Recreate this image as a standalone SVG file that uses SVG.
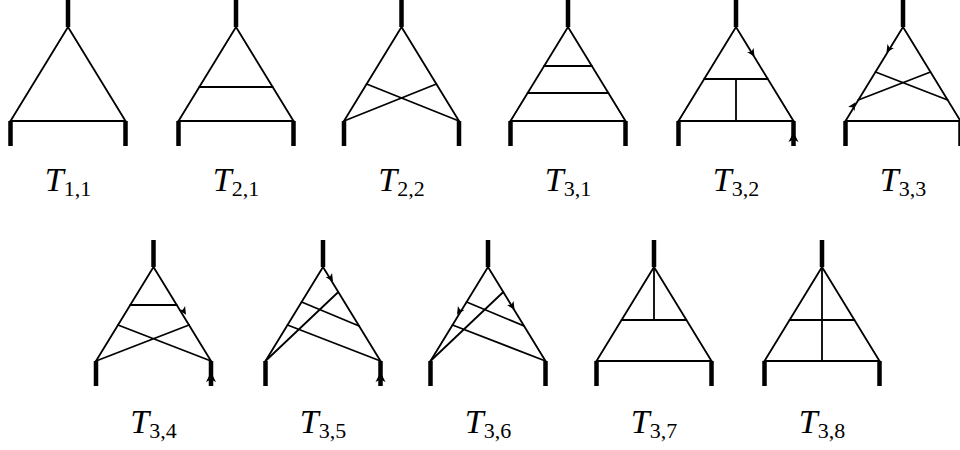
<svg xmlns="http://www.w3.org/2000/svg" xmlns:xlink="http://www.w3.org/1999/xlink" width="960" height="450" viewBox="0 0 960 450">
<style>
.l{stroke:#000;stroke-width:1.8;fill:none;stroke-linecap:round}
.k{stroke:#000;stroke-width:4.5;fill:none}
.t{font-family:"Liberation Serif","DejaVu Serif",serif;font-style:italic;font-size:34px;fill:#000}
.s{font-family:"Liberation Serif","DejaVu Serif",serif;font-style:normal;font-size:22px}
</style>
<defs>
<path id="ah" d="M1,0 L-7,-3.8 L-5,0 L-7,3.8 Z" fill="#000"/>
<path id="ahb" d="M1,0 L-9,-5 L-6.5,0 L-9,5 Z" fill="#000"/>
<g id="tri1">
<path class="k" d="M0,0 V27 M-57.5,121 V146 M57.5,121 V146"/>
<path class="l" d="M-57.5,121 L0,27 L57.5,121"/>
</g>
</defs>
<rect width="960" height="450" fill="#fff"/>

<g id="T11" transform="translate(68,0)">
<use xlink:href="#tri1"/>
<path class="l" d="M-57.5,121 H57.5"/>
<text class="t" x="0" y="191" text-anchor="middle">T<tspan class="s" dy="5">1,1</tspan></text>
</g>

<g id="T21" transform="translate(236,0)">
<use xlink:href="#tri1"/>
<path class="l" d="M-57.5,121 H57.5 M-36.7,87 H36.7"/>
<text class="t" x="0" y="191" text-anchor="middle">T<tspan class="s" dy="5">2,1</tspan></text>
</g>

<g id="T22" transform="translate(401.5,0)">
<use xlink:href="#tri1"/>
<path class="l" d="M-34.9,84 L57.5,121 M34.9,84 L-57.5,121"/>
<text class="t" x="0" y="191" text-anchor="middle">T<tspan class="s" dy="5">2,2</tspan></text>
</g>

<g id="T31" transform="translate(568,0)">
<use xlink:href="#tri1"/>
<path class="l" d="M-57.5,121 H57.5 M-23.9,66 H23.9 M-40.4,93 H40.4"/>
<text class="t" x="0" y="191" text-anchor="middle">T<tspan class="s" dy="5">3,1</tspan></text>
</g>

<g id="T32" transform="translate(736,0)">
<use xlink:href="#tri1"/>
<path class="l" d="M-57.5,121 H57.5 M-31.8,79 H31.8 M0,79 V121"/>
<use xlink:href="#ah" transform="translate(18,56) rotate(58.3)"/>
<use xlink:href="#ahb" transform="translate(57.5,133) rotate(-90)"/>
<text class="t" x="0" y="191" text-anchor="middle">T<tspan class="s" dy="5">3,2</tspan></text>
</g>

<g id="T33" transform="translate(903,0)">
<use xlink:href="#tri1"/>
<path class="l" d="M-57.5,121 H57.5 M-27.5,72 L44.7,100 M27.5,72 L-44.7,100"/>
<use xlink:href="#ah" transform="translate(-16,52) rotate(121.7)"/>
<use xlink:href="#ah" transform="translate(-48,103) rotate(-58.3)"/>
<text class="t" x="0" y="191" text-anchor="middle">T<tspan class="s" dy="5">3,3</tspan></text>
</g>

<g id="T34" transform="translate(153.5,240)">
<use xlink:href="#tri1"/>
<path class="l" d="M-23.2,65 H23.2 M-35.5,85 L57.5,121 M35.5,85 L-57.5,121"/>
<use xlink:href="#ah" transform="translate(32,74) rotate(58.3)"/>
<use xlink:href="#ahb" transform="translate(57.5,133) rotate(-90)"/>
<text class="t" x="0" y="193" text-anchor="middle">T<tspan class="s" dy="5">3,4</tspan></text>
</g>

<g id="T35" transform="translate(323,240)">
<use xlink:href="#tri1"/>
<path class="l" d="M-21.4,62 L36.1,86 M-35.5,85 L57.5,121 M15.3,52 L-57.5,121"/>
<use xlink:href="#ah" transform="translate(9.5,41) rotate(58.3)"/>
<use xlink:href="#ahb" transform="translate(57.5,133) rotate(-90)"/>
<text class="t" x="0" y="193" text-anchor="middle">T<tspan class="s" dy="5">3,5</tspan></text>
</g>

<g id="T36" transform="translate(488,240)">
<use xlink:href="#tri1"/>
<path class="l" d="M-21.4,62 L36.1,86 M-35.5,85 L57.5,121 M15.3,52 L-57.5,121"/>
<use xlink:href="#ah" transform="translate(-30.5,74) rotate(121.7)"/>
<use xlink:href="#ah" transform="translate(26,69) rotate(58.3)"/>
<text class="t" x="0" y="193" text-anchor="middle">T<tspan class="s" dy="5">3,6</tspan></text>
</g>

<g id="T37" transform="translate(654,240)">
<use xlink:href="#tri1"/>
<path class="l" d="M-57.5,121 H57.5 M-32.4,80 H32.4 M0,27 V80"/>
<text class="t" x="0" y="193" text-anchor="middle">T<tspan class="s" dy="5">3,7</tspan></text>
</g>

<g id="T38" transform="translate(822,240)">
<use xlink:href="#tri1"/>
<path class="l" d="M-57.5,121 H57.5 M-32.4,80 H32.4 M0,27 V121"/>
<text class="t" x="0" y="193" text-anchor="middle">T<tspan class="s" dy="5">3,8</tspan></text>
</g>
</svg>
